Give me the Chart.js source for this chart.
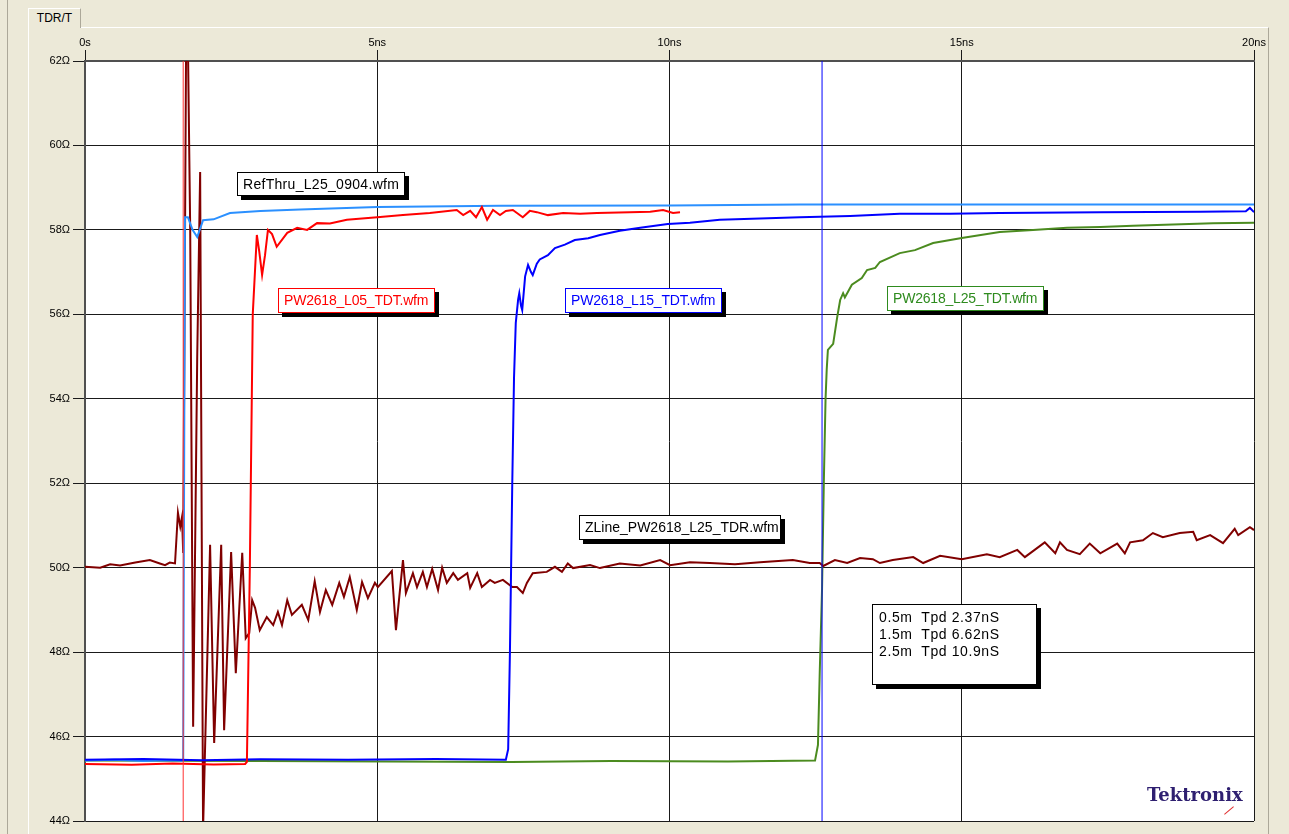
<!DOCTYPE html>
<html>
<head>
<meta charset="utf-8">
<script src="https://cdn.jsdelivr.net/npm/chart.js@4/dist/chart.umd.min.js"></script>
<style>
  html, body { margin: 0; padding: 0; }
  body { width: 1289px; height: 834px; background: #ECE9D8; position: relative; overflow: hidden;
         font-family: "Liberation Sans", Arial, sans-serif; }
  .vline { position: absolute; top: 0; width: 1px; height: 834px; background: #ACA899; }
  #panel { position: absolute; left: 28px; top: 27px; width: 1239px; height: 810px;
           border-left: 1px solid #fff; border-top: 1px solid #fff; border-right: 1px solid #ACA899; }
  #tab { position: absolute; left: 28px; top: 8px; width: 51px; height: 19px; background: #ECE9D8;
         border-left: 1px solid #fff; border-top: 1px solid #fff; border-right: 1px solid #ACA899;
         font-size: 12px; line-height: 18px; text-align: center; }
  #wrap { position: absolute; left: 30px; top: 28px; width: 1238px; height: 806px; }
  .lbl { position: absolute; background: #fff; border: 1px solid #000; box-shadow: 4px 4px 0 #000;
         font-size: 14px; line-height: 22px; padding: 0 5px; white-space: nowrap; box-sizing: border-box;
         overflow: hidden; }
  #info { position: absolute; left: 872px; top: 604px; width: 165px; height: 81px; background: #fff;
          border: 1px solid #000; box-shadow: 4px 4px 0 #000; font-size: 14px; line-height: 17px;
          padding: 4px 0 0 6px; box-sizing: border-box; white-space: pre; letter-spacing: 0.6px; }
  #logo { position: absolute; left: 1147px; top: 784px; font-family: "DejaVu Serif", serif;
          font-weight: bold; font-size: 18px; color: #2E1F70; }
  #slash { position: absolute; left: 1223px; top: 810px; width: 12px; height: 1px; background: #E03030;
           transform: rotate(-40deg); }
</style>
</head>
<body>
<div class="vline" style="left:7px"></div>
<div id="panel"></div>
<div id="tab">TDR/T</div>
<div id="wrap"><canvas id="c"></canvas></div>

<div class="lbl" style="left:237px;top:172px;width:168px;height:24px;color:#000;letter-spacing:0.3px">RefThru_L25_0904.wfm</div>
<div class="lbl" style="left:278px;top:288px;width:157px;height:25px;color:#FF0000;border-color:#FF0000;letter-spacing:-0.2px">PW2618_L05_TDT.wfm</div>
<div class="lbl" style="left:565px;top:288px;width:157px;height:25px;color:#0000FF;border-color:#0000FF;letter-spacing:-0.2px">PW2618_L15_TDT.wfm</div>
<div class="lbl" style="left:887px;top:286px;width:157px;height:25px;color:#2E8B1E;border-color:#2E8B1E;letter-spacing:-0.2px">PW2618_L25_TDT.wfm</div>
<div class="lbl" style="left:579px;top:515px;width:202px;height:25px;color:#000;letter-spacing:0px">ZLine_PW2618_L25_TDR.wfm</div>
<div id="info">0.5m  Tpd 2.37nS
1.5m  Tpd 6.62nS
2.5m  Tpd 10.9nS</div>
<div id="logo">Tektronix</div>
<div id="slash"></div>

<script>
// time in ns, impedance in ohms
const xTicks = [0, 5, 10, 15, 20];
const yTicks = [44, 46, 48, 50, 52, 54, 56, 58, 60, 62];

const refThruT = [0, 0.5, 1.0, 1.4, 1.68, 1.71, 1.76, 1.84, 1.92, 2.02, 2.2, 2.48, 3.0, 3.68, 5.0, 7.1, 10.0, 12.23, 15.0, 20.0];
const refThruZ = [45.43, 45.45, 45.42, 45.44, 45.43, 58.3, 58.3, 58.0, 57.83, 58.23, 58.25, 58.4, 58.45, 58.48, 58.54, 58.57, 58.58, 58.6, 58.6, 58.6];

const l05T = [0, 0.8, 1.5, 2.2, 2.74, 2.77, 2.82, 2.87, 2.94, 2.98, 3.03, 3.08, 3.13, 3.2, 3.28, 3.46, 3.63, 3.8, 3.97, 4.19, 4.48,
  5.0, 5.44, 5.9, 6.36, 6.47, 6.59, 6.69, 6.79, 6.88, 6.98, 7.1, 7.2, 7.32, 7.49, 7.61, 7.73, 7.92, 8.18, 8.47, 8.76, 9.32, 9.67, 9.89, 10.06, 10.18];
const l05Z = [45.35, 45.33, 45.36, 45.34, 45.35, 45.4, 50.0, 56.0, 57.88, 57.5, 56.93, 57.4, 58.0, 57.9, 57.6, 57.93, 58.05, 58.0, 58.16, 58.15, 58.24,
  58.3, 58.35, 58.4, 58.47, 58.35, 58.45, 58.3, 58.54, 58.24, 58.47, 58.35, 58.45, 58.47, 58.3, 58.45, 58.42, 58.35, 58.4, 58.38, 58.4, 58.42, 58.43, 58.47, 58.4, 58.42];

const l15T = [0, 1.0, 2.0, 3.0, 4.5, 6.0, 7.2, 7.24, 7.27, 7.31, 7.34, 7.37, 7.41, 7.43, 7.46, 7.48, 7.53, 7.58, 7.63, 7.66, 7.73, 7.78, 7.92,
  8.04, 8.21, 8.38, 8.61, 8.81, 9.15, 9.5, 9.97, 10.35, 10.86, 11.55, 12.23, 13.09, 13.94, 14.8, 15.65, 17.37, 19.08, 19.86, 19.93, 20.0];
const l15Z = [45.45, 45.47, 45.44, 45.46, 45.45, 45.47, 45.45, 45.7, 48.0, 52.0, 54.5, 55.8, 56.35, 56.5, 56.2, 56.1, 56.9, 57.17, 57.0, 56.93, 57.2, 57.3, 57.4,
  57.57, 57.65, 57.76, 57.8, 57.88, 57.98, 58.05, 58.14, 58.17, 58.24, 58.27, 58.3, 58.33, 58.38, 58.38, 58.4, 58.42, 58.43, 58.44, 58.52, 58.42];

const l25T = [0, 3.0, 7.3, 9.0, 11.0, 12.49, 12.54, 12.57, 12.61, 12.64, 12.67, 12.69, 12.71, 12.8, 12.87, 12.92, 12.97, 13.0, 13.12, 13.29, 13.38,
  13.52, 13.6, 13.94, 14.2, 14.51, 15.0, 15.65, 16.22, 16.8, 17.37, 17.93, 19.3, 20.0];
const l25Z = [45.43, 45.42, 45.4, 45.42, 45.41, 45.43, 45.8, 47.5, 49.5, 52.0, 54.0, 54.7, 55.16, 55.3, 55.94, 56.34, 56.5, 56.4, 56.7, 56.86, 57.05,
  57.1, 57.24, 57.45, 57.52, 57.69, 57.81, 57.95, 58.0, 58.05, 58.07, 58.1, 58.16, 58.17];

const tdrT = [0, 0.26, 0.43, 0.6, 0.86, 1.11, 1.28, 1.37, 1.45, 1.54, 1.59, 1.63, 1.66, 1.68, 1.73, 1.76, 1.8, 1.85, 1.92, 1.97, 2.02,
  2.14, 2.21, 2.33, 2.38, 2.5, 2.58, 2.69, 2.75, 2.81, 2.86, 2.91, 2.99, 3.11, 3.22, 3.3, 3.37, 3.46, 3.54, 3.71, 3.82, 3.93, 4.02,
  4.12, 4.23, 4.35, 4.43, 4.53, 4.65, 4.74, 4.84, 4.96, 5.01, 5.25, 5.32, 5.44, 5.49, 5.61, 5.68, 5.78, 5.85, 5.94, 6.04, 6.11, 6.19,
  6.3, 6.38, 6.54, 6.59, 6.71, 6.79, 6.93, 7.01, 7.15, 7.31, 7.39, 7.49, 7.56, 7.66, 7.9, 8.04, 8.16, 8.26, 8.35, 8.64, 8.81, 9.15,
  9.5, 9.84, 10.01, 10.35, 10.69, 11.12, 11.55, 12.11, 12.4, 12.57, 12.63, 12.83, 13.04, 13.26, 13.48, 13.6, 13.82, 14.17, 14.34,
  14.63, 15.0, 15.43, 15.65, 15.95, 16.08, 16.42, 16.6, 16.68, 16.8, 17.02, 17.19, 17.37, 17.66, 17.79, 17.88, 18.1, 18.27, 18.44,
  18.73, 18.96, 19.02, 19.25, 19.47, 19.67, 19.73, 19.93, 20.0];
const tdrZ = [50.02, 50.0, 50.08, 50.05, 50.12, 50.18, 50.1, 50.06, 50.12, 50.1, 51.3, 50.97, 51.2, 50.35, 62.5, 62.5, 58.0, 46.23, 55.0, 59.37, 43.8,
  50.54, 45.85, 50.54, 46.15, 50.37, 47.5, 50.35, 48.33, 48.45, 49.23, 49.05, 48.52, 48.83, 48.64, 48.95, 48.64, 49.23, 48.88, 49.12, 48.76, 49.68, 48.95,
  49.47, 49.12, 49.64, 49.31, 49.78, 49.0, 49.66, 49.28, 49.64, 49.54, 49.92, 48.52, 50.18, 49.4, 49.87, 49.54, 49.9, 49.54, 49.97, 49.47, 50.0, 49.64,
  49.87, 49.71, 49.87, 49.52, 49.87, 49.54, 49.71, 49.64, 49.71, 49.54, 49.54, 49.4, 49.64, 49.87, 49.9, 50.02, 49.9, 50.1, 49.99, 50.06, 49.99, 50.1,
  50.05, 50.18, 50.06, 50.13, 50.11, 50.08, 50.13, 50.18, 50.11, 50.11, 50.04, 50.18, 50.11, 50.23, 50.2, 50.11, 50.18, 50.25, 50.11,
  50.28, 50.2, 50.32, 50.25, 50.42, 50.25, 50.6, 50.34, 50.6, 50.42, 50.32, 50.57, 50.34, 50.57, 50.34, 50.6, 50.65, 50.82, 50.72,
  50.82, 50.85, 50.65, 50.77, 50.58, 50.92, 50.77, 50.96, 50.89];

const cursorT = [1.68, 12.61];

function pts(t, z) { return t.map((v, i) => ({ x: v, y: z[i] })); }
function cursor(t) { return [{ x: t, y: 44 }, { x: t, y: 62 }]; }

const plotBg = {
  id: 'plotBg',
  beforeDraw(chart) {
    const a = chart.chartArea, ctx = chart.ctx;
    ctx.save();
    ctx.fillStyle = '#ffffff';
    ctx.fillRect(a.left, a.top, a.right - a.left, a.bottom - a.top);
    ctx.restore();
  }
};

const line = (data, color, w) => ({ data, borderColor: color, borderWidth: w, pointRadius: 0, tension: 0, fill: false });

new Chart(document.getElementById('c'), {
  type: 'line',
  data: {
    datasets: [
      line(cursor(cursorT[0]), '#FF3030', 1),
      line(cursor(cursorT[1]), '#0000FF', 1),
      line(pts(l05T, l05Z), '#FF0000', 2),
      line(pts(l15T, l15Z), '#0000FF', 2),
      line(pts(refThruT, refThruZ), '#2B90FF', 2),
      line(pts(tdrT, tdrZ), '#800000', 2),
      line(pts(l25T, l25Z), '#4B8B1F', 2)
    ]
  },
  options: {
    responsive: true,
    maintainAspectRatio: false,
    animation: false,
    layout: { padding: { left: 0, right: 14, top: 0, bottom: 13 } },
    plugins: { legend: { display: false }, tooltip: { enabled: false } },
    scales: {
      x: {
        type: 'linear', position: 'top', min: 0, max: 20,
        afterFit: s => { s.height = 33; },
        afterBuildTicks: s => { s.ticks = xTicks.map(v => ({ value: v })); },
        ticks: { color: '#000', font: { family: 'Liberation Sans', size: 11 }, padding: 0, maxRotation: 0,
                 callback: v => v === 0 ? '0s' : v + 'ns' },
        grid: { color: '#1a1a1a', lineWidth: 1, tickLength: 11 },
        border: { color: '#505050', width: 2 }
      },
      y: {
        type: 'linear', min: 44, max: 62,
        afterFit: s => { s.width = 55; },
        afterBuildTicks: s => { s.ticks = yTicks.map(v => ({ value: v })); },
        ticks: { color: '#000', font: { family: 'Liberation Sans', size: 11 }, padding: 3,
                 callback: v => v + 'Ω' },
        grid: { color: '#1a1a1a', lineWidth: 1, tickLength: 12 },
        border: { color: '#505050', width: 2 }
      }
    }
  },
  plugins: [plotBg]
});
</script>
</body>
</html>
